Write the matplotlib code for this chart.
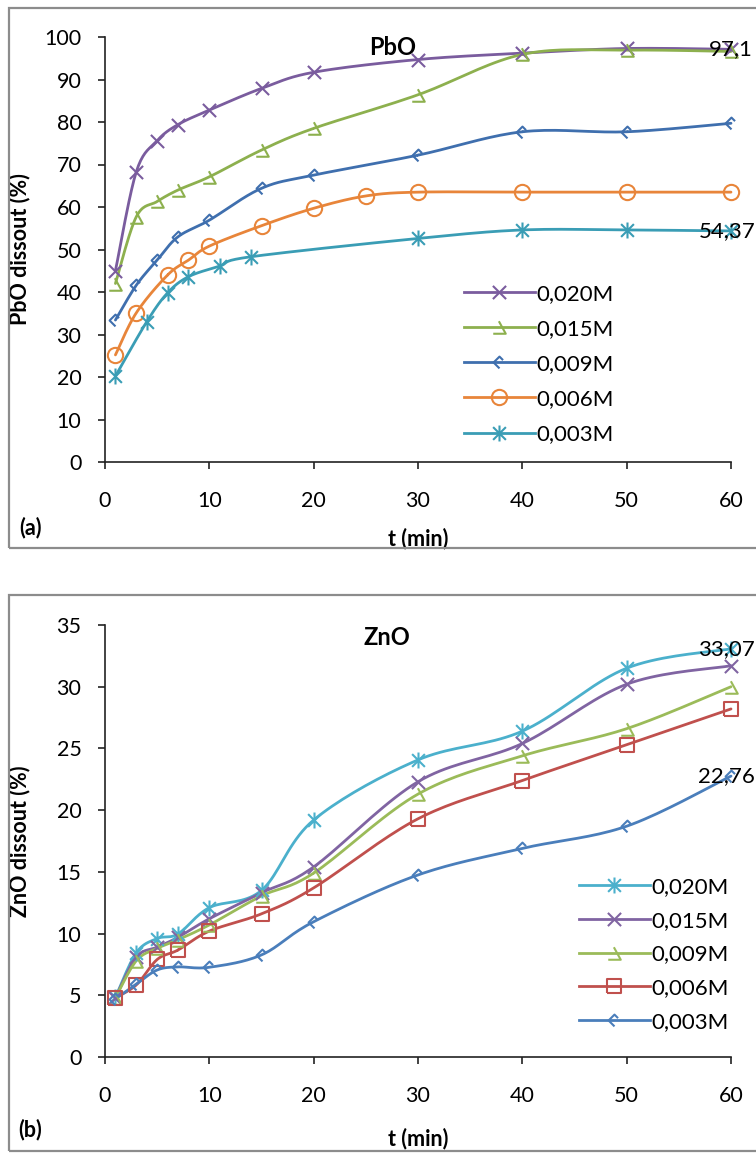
import numpy as np
import matplotlib
matplotlib.use("Agg")
import matplotlib.pyplot as plt
from matplotlib.path import Path
from matplotlib.patches import Rectangle
from matplotlib.lines import Line2D

plt.rcParams['font.family'] = ['Lato', 'DejaVu Sans']

# ---------------- data (a) PbO ----------------
pbo_labels = ["0,020M", "0,015M", "0,009M", "0,006M", "0,003M"]
pbo_t_020 = [1, 3, 5, 7, 10, 15, 20, 30, 40, 50, 60]
pbo_v_020 = [45.0, 68.3, 75.6, 79.4, 82.8, 87.9, 91.7, 94.7, 96.2, 97.3, 97.1]
pbo_t_015 = [1, 3, 5, 7, 10, 15, 20, 30, 40, 50, 60]
pbo_v_015 = [42.0, 57.7, 61.3, 64.0, 67.1, 73.4, 78.5, 86.4, 95.9, 96.9, 96.6]
pbo_t_009 = [1, 3, 5, 7, 10, 15, 20, 30, 40, 50, 60]
pbo_v_009 = [33.4, 41.6, 47.5, 53.0, 56.9, 64.4, 67.5, 72.2, 77.7, 77.7, 79.7]
pbo_t_006 = [1, 3, 6, 8, 10, 15, 20, 25, 30, 40, 50, 60]
pbo_v_006 = [25.2, 35.1, 44.0, 47.5, 50.8, 55.6, 59.7, 62.6, 63.5, 63.5, 63.5, 63.5]
pbo_t_003 = [1, 4, 6, 8, 11, 14, 30, 40, 50, 60]
pbo_v_003 = [20.2, 33.0, 39.8, 43.6, 46.1, 48.3, 52.6, 54.6, 54.6, 54.37]

# ---------------- data (b) ZnO ----------------
zno_labels = ["0,020M", "0,015M", "0,009M", "0,006M", "0,003M"]
zno_t = [1, 3, 5, 7, 10, 15, 20, 30, 40, 50, 60]
zno_v_020 = [4.84, 8.45, 9.6, 9.97, 12.1, 13.5, 19.2, 24.07, 26.4, 31.5, 33.07]
zno_v_015 = [4.8, 8.1, 8.9, 9.7, 11.2, 13.3, 15.4, 22.3, 25.4, 30.2, 31.7]
zno_v_009 = [4.8, 7.8, 8.8, 9.5, 10.7, 13.05, 14.9, 21.3, 24.4, 26.6, 30.0]
zno_v_006 = [4.8, 5.84, 7.9, 8.67, 10.2, 11.6, 13.7, 19.3, 22.4, 25.3, 28.2]
zno_v_003 = [4.7, 5.9, 7.05, 7.3, 7.27, 8.27, 10.96, 14.75, 16.9, 18.7, 22.76]

x_ticks = [0, 10, 20, 30, 40, 50, 60]
pbo_yticks = list(range(0, 101, 10))
zno_yticks = list(range(0, 36, 5))

# ---------------- markers ----------------
M = Path.MOVETO
L = Path.LINETO
m_x = Path([(-1, -1), (1, 1), (-1, 1), (1, -1)], [M, L, M, L])
m_ast = Path([(-1, -1), (1, 1), (-1, 1), (1, -1), (0, -1.25), (0, 1.25)], [M, L, M, L, M, L])
m_tri = Path([(-0.1, 1), (1, -1), (-1, -1)], [M, L, L])
m_dia = Path([(0.6, 0.4), (0, 1), (-1, 0), (0, -1)], [M, L, L, L])
m_sq = Path([(-1, -1), (1, -1), (1, 1), (-1, 1), (-1, -1)], [M, L, L, L, L])


def smooth(x, y, n=20):
    """Catmull-Rom style curve through the data points (Excel smoothed line)."""
    x = np.asarray(x, float)
    y = np.asarray(y, float)
    P = np.column_stack([x, y])
    P = np.vstack([P[0], P, P[-1]])
    out = []
    for i in range(1, len(P) - 2):
        p0, p1, p2, p3 = P[i - 1], P[i], P[i + 1], P[i + 2]
        t = np.linspace(0, 1, n)[:, None]
        c = 0.5 * ((2 * p1) + (-p0 + p2) * t + (2 * p0 - 5 * p1 + 4 * p2 - p3) * t ** 2
                   + (-p0 + 3 * p1 - 3 * p2 + p3) * t ** 3)
        out.append(c)
    c = np.vstack(out)
    return c[:, 0], c[:, 1]


W, H = 756, 1153
fig = plt.figure(figsize=(W / 100, H / 100), dpi=100)

# panel frames
for (x0, y0, x1, y1) in [(9, 8, 790, 548), (9, 595, 790, 1151)]:
    fig.add_artist(Rectangle((x0 / W, 1 - y1 / H), (x1 - x0) / W, (y1 - y0) / H,
                             transform=fig.transFigure, fill=False,
                             edgecolor='#8c8c8c', linewidth=1.6, clip_on=False))


def make_axes(top, bottom):
    ax = fig.add_axes([105 / W, 1 - bottom / H, 626 / W, (bottom - top) / H])
    for s in ['top', 'right']:
        ax.spines[s].set_visible(False)
    for s in ['left', 'bottom']:
        ax.spines[s].set_color('#222222')
        ax.spines[s].set_linewidth(1.2)
    ax.tick_params(axis='both', direction='out', length=5, width=1.2, color='#222222',
                   labelsize=15.5, labelcolor='black')
    ax.tick_params(axis='x', pad=16)
    ax.tick_params(axis='y', pad=12)
    ax.set_xlim(0, 60)
    ax.set_xticks(x_ticks)
    ax.patch.set_alpha(0)
    return ax


LW = 2.0
MEW = 1.5


def draw(ax, t, v, color, marker, ms, label):
    sx, sy = smooth(t, v)
    ax.plot(sx, sy, color=color, lw=LW, solid_capstyle='round', clip_on=False, zorder=3)
    ax.plot(t, v, ls='none', marker=marker, ms=ms, mew=MEW, mec=color, mfc='none',
            clip_on=False, zorder=4)
    return Line2D([0], [0], color=color, lw=LW, marker=marker, ms=ms, mew=MEW,
                  mec=color, mfc='none', label=label)


def end_label(ax, x, y, s):
    ax.annotate(s, (x, y), xytext=(-3, 0), textcoords='offset points',
                ha='center', va='center', fontsize=16, zorder=5, annotation_clip=False)


# ---------------- (a) PbO ----------------
ax1 = make_axes(37, 462)
ax1.set_ylim(0, 100)
ax1.set_yticks(pbo_yticks)
c_pur, c_grn, c_blu, c_org, c_teal = '#7a5c9e', '#8db04e', '#3f6fae', '#e8853a', '#3a9db5'
h = []
h.append(draw(ax1, pbo_t_020, pbo_v_020, c_pur, m_x, 9.5, pbo_labels[0]))
h.append(draw(ax1, pbo_t_015, pbo_v_015, c_grn, m_tri, 9, pbo_labels[1]))
h.append(draw(ax1, pbo_t_009, pbo_v_009, c_blu, m_dia, 8.5, pbo_labels[2]))
h.append(draw(ax1, pbo_t_006, pbo_v_006, c_org, 'o', 11, pbo_labels[3]))
h.append(draw(ax1, pbo_t_003, pbo_v_003, c_teal, m_ast, 11.5, pbo_labels[4]))
ax1.text(pbo_t_020[-1], pbo_v_020[-1], "97,1", ha='center', va='center', fontsize=16, zorder=5)
end_label(ax1, pbo_t_003[-1], pbo_v_003[-1], "54,37")
ax1.legend(handles=h, loc='upper left', bbox_to_anchor=((455 - 105) / 626, (462 - 275) / 425),
           frameon=False, fontsize=16, handlelength=3.2, handletextpad=0.05,
           labelspacing=0.68, borderaxespad=0)
ax1.set_ylabel("PbO dissout (%)", fontsize=15.5, fontweight='bold')
ax1.yaxis.set_label_coords((30 - 105) / 626, 0.5)
ax1.set_xlabel("t (min)", fontsize=15.5, fontweight='bold')
ax1.xaxis.set_label_coords(0.5, -(528 - 462) / 425)
ax1.text(0.46, 0.975, "PbO", transform=ax1.transAxes, ha='center', va='center',
         fontsize=17, fontweight='bold')
fig.text(30 / W, 1 - 528 / H, "(a)", ha='center', va='center', fontsize=15.5, fontweight='bold')

# ---------------- (b) ZnO ----------------
ax2 = make_axes(625, 1057)
ax2.set_ylim(0, 35)
ax2.set_yticks(zno_yticks)
b_teal, b_pur, b_grn, b_red, b_blu = '#4bb0cc', '#8064a2', '#9bbb59', '#c0504d', '#4a7ebb'
h2 = []
h2.append(draw(ax2, zno_t, zno_v_020, b_teal, m_ast, 11.5, zno_labels[0]))
h2.append(draw(ax2, zno_t, zno_v_015, b_pur, m_x, 9.5, zno_labels[1]))
h2.append(draw(ax2, zno_t, zno_v_009, b_grn, m_tri, 9, zno_labels[2]))
h2.append(draw(ax2, zno_t, zno_v_006, b_red, m_sq, 9.5, zno_labels[3]))
h2.append(draw(ax2, zno_t, zno_v_003, b_blu, m_dia, 8.5, zno_labels[4]))
end_label(ax2, zno_t[-1], zno_v_020[-1], "33,07")
end_label(ax2, zno_t[-1], zno_v_003[-1], "22,76")
ax2.legend(handles=h2, loc='upper left', bbox_to_anchor=((570 - 105) / 626, (1057 - 868) / 432),
           frameon=False, fontsize=16, handlelength=3.2, handletextpad=0.05,
           labelspacing=0.62, borderaxespad=0)
ax2.set_ylabel("ZnO dissout (%)", fontsize=15.5, fontweight='bold')
ax2.yaxis.set_label_coords((30 - 105) / 626, 0.5)
ax2.set_xlabel("t (min)", fontsize=15.5, fontweight='bold')
ax2.xaxis.set_label_coords(0.5, -(1128 - 1057) / 432)
ax2.text((387 - 105) / 626, (1057 - 637) / 432, "ZnO", transform=ax2.transAxes,
         ha='center', va='center', fontsize=17, fontweight='bold')
fig.text(30 / W, 1 - 1130 / H, "(b)", ha='center', va='center', fontsize=15.5, fontweight='bold')

fig.savefig("out.png", dpi=100)
